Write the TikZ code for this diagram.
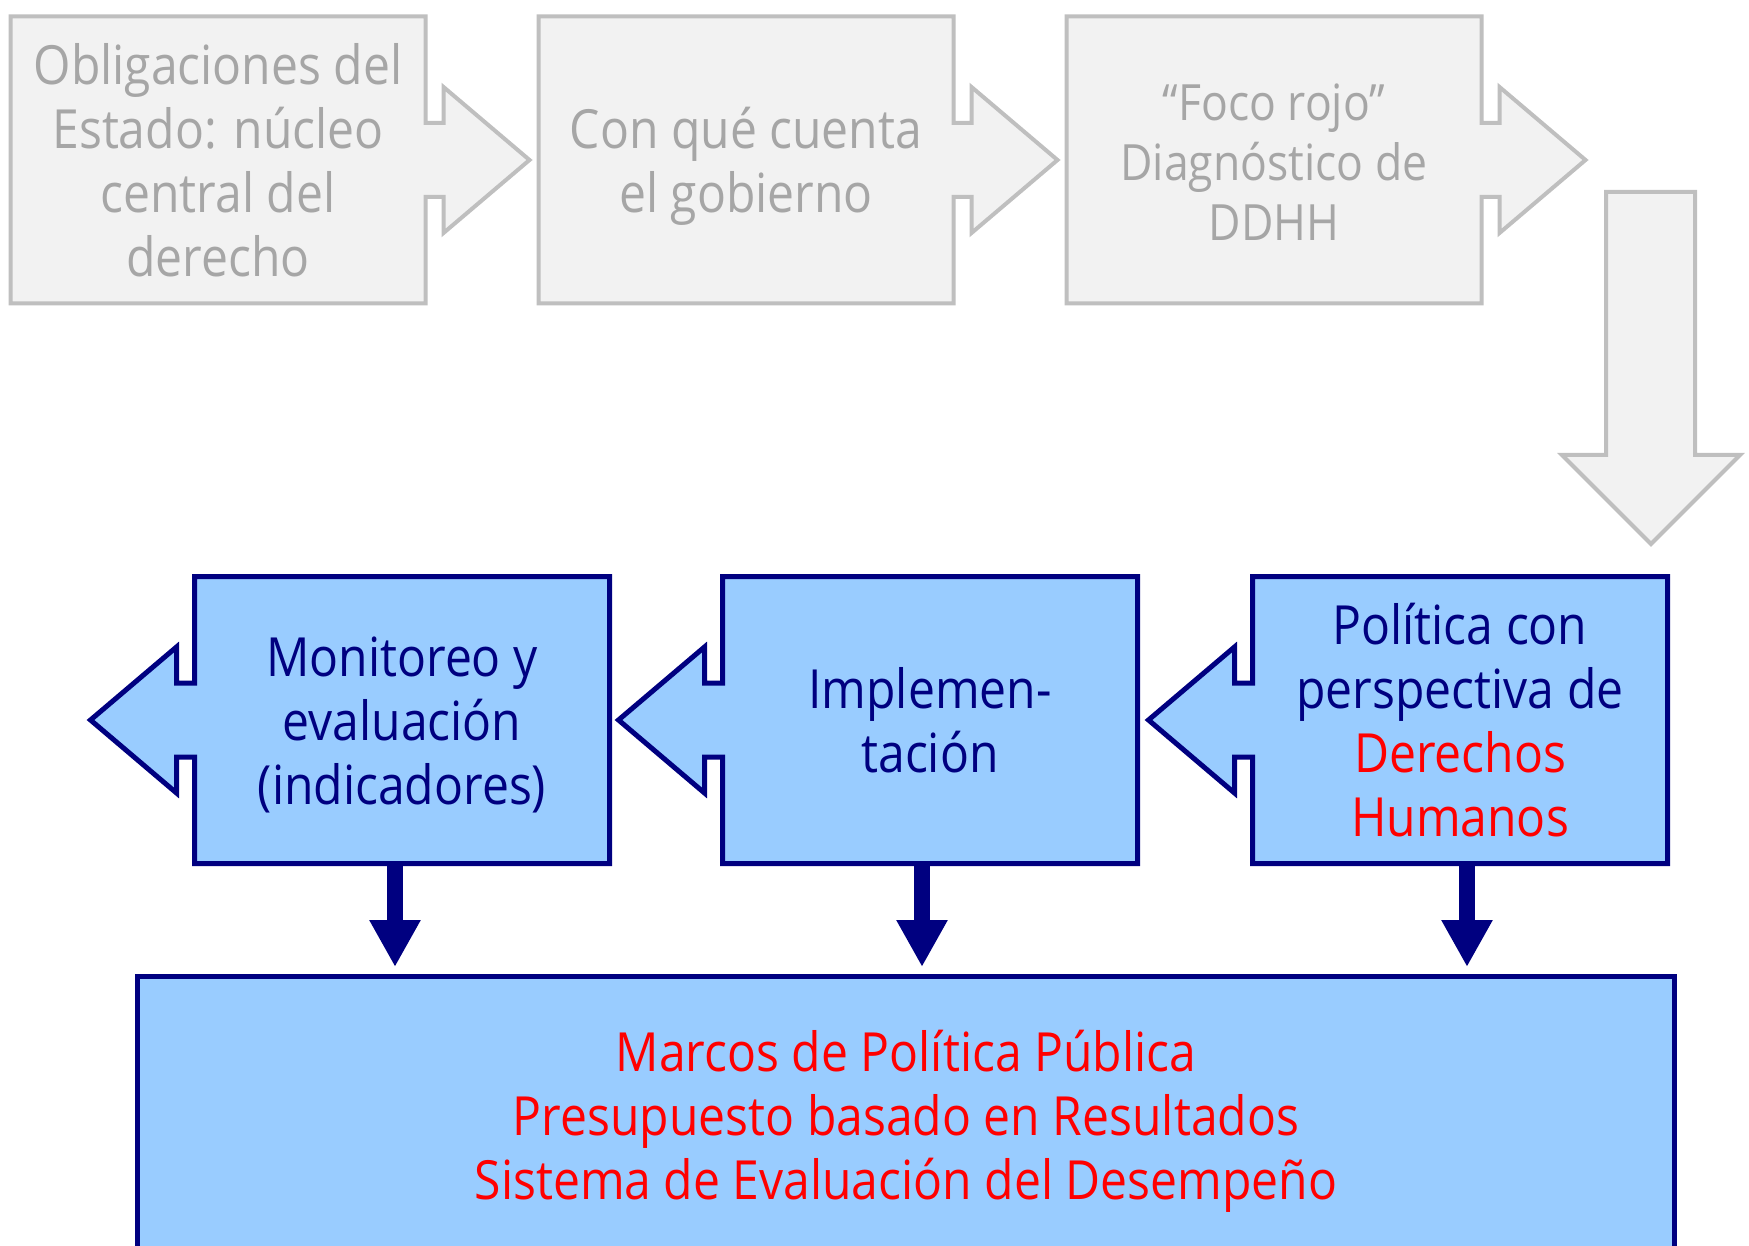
\documentclass[tikz,border=0pt]{standalone}
\usepackage{fontspec}
\setmainfont{Open Sans}[FakeStretch=0.89]
\usepackage{tikz}
\usetikzlibrary{arrows.meta}
\usetikzlibrary{backgrounds}
\definecolor{grisrelleno}{HTML}{F2F2F2}
\definecolor{grisborde}{HTML}{BFBFBF}
\definecolor{gristexto}{HTML}{A6A6A6}
\definecolor{azulrelleno}{HTML}{99CCFF}
\definecolor{marino}{HTML}{000080}
\definecolor{rojo}{HTML}{FF0000}
% puntales: alto fijo arriba, hondo fijo abajo
\newcommand{\arriba}{\rule{0pt}{56pt}}
\newcommand{\abajo}{\rule[-15pt]{0pt}{15pt}}
\tikzset{caja/.style = {rectangle, outer sep = 0pt, inner sep = 0pt,
                        minimum width = 415pt, minimum height = 287pt,
                        align = center, font = \fontsize{54}{64}\selectfont}}
\tikzset{gris/.style = {caja, text = gristexto}}
\tikzset{azul/.style = {caja, text = marino}}
\tikzset{bordegris/.style = {draw = grisborde, fill = grisrelleno, line width = 4pt}}
\tikzset{bordeazul/.style = {draw = marino, fill = azulrelleno, line width = 5pt}}
\tikzset{flechaazul/.style = {draw = marino, line width = 16pt,
                              -{Triangle[width = 48pt, length = 47pt]},
                              shorten > = 9pt}}
% caja con punta de flecha a la derecha / a la izquierda
\newcommand{\puntader}[2]{%
  \draw [#2] (#1.north west) -- (#1.north east) -- ([yshift=37pt]#1.east)
    -- ++(18,0) -- ++(0,-36) -- ++(86,73) -- ++(-86,73) -- ++(0,-36) -- ++(-18,0)
    -- (#1.south east) -- (#1.south west) -- cycle;}
\newcommand{\puntaizq}[2]{%
  \draw [#2] (#1.north east) -- (#1.north west) -- ([yshift=37pt]#1.west)
    -- ++(-18,0) -- ++(0,-36) -- ++(-86,73) -- ++(86,73) -- ++(0,-36) -- ++(18,0)
    -- (#1.south west) -- (#1.south east) -- cycle;}

\begin{document}
\begin{tikzpicture}[x=1pt, y=-1pt]
      \useasboundingbox (0,0) rectangle (1749,1246);

      \node [gris] (obligaciones) at (218, 160) {\arriba Obligaciones del\\Estado: núcleo\\central del\\derecho\abajo};
      \node [gris] (cuenta) at (746, 160) {\arriba Con qué cuenta\\el gobierno\abajo};
      \node [gris, font = \fontsize{50}{60}\selectfont] (foco) at (1274, 160) {\arriba“Foco rojo”\\Diagnóstico de\\DDHH\abajo};

      \node [azul] (politica) at (1460, 720) {\arriba Política con\\perspectiva de\\\textcolor{rojo}{Derechos}\\\textcolor{rojo}{Humanos}\abajo};
      \node [azul] (implementacion) at (930, 720) {\arriba Implemen-\\tación\abajo};
      \node [azul] (monitoreo) at (402, 720) {\arriba Monitoreo y\\evaluación\\(indicadores)\abajo};

      \node [caja, minimum width = 1537pt, minimum height = 278pt, text = rojo] (marcos) at (906, 1115)
            {\arriba Marcos de Política Pública\\Presupuesto basado en Resultados\\Sistema de Evaluación del Desempeño\abajo};

      \begin{scope}[on background layer]
        \puntader{obligaciones}{bordegris}
        \puntader{cuenta}{bordegris}
        \puntader{foco}{bordegris}
        \puntaizq{politica}{bordeazul}
        \puntaizq{implementacion}{bordeazul}
        \puntaizq{monitoreo}{bordeazul}
        \draw [bordeazul] (marcos.north west) rectangle (marcos.south east);
        % flecha gris de bajada
        \draw [bordegris] (1606,192) -- (1695,192) -- (1695,455) -- (1740,455)
              -- (1651,544) -- (1562,455) -- (1606,455) -- cycle;
      \end{scope}

      \coordinate (m1) at ([xshift=-7pt]monitoreo.south);
      \coordinate (m2) at ([xshift=-8pt]implementacion.south);
      \coordinate (m3) at ([xshift=7pt]politica.south);
      \foreach \c in {m1, m2, m3}
        \draw [flechaazul] (\c) -- (\c |- marcos.north);
\end{tikzpicture}
\end{document}
